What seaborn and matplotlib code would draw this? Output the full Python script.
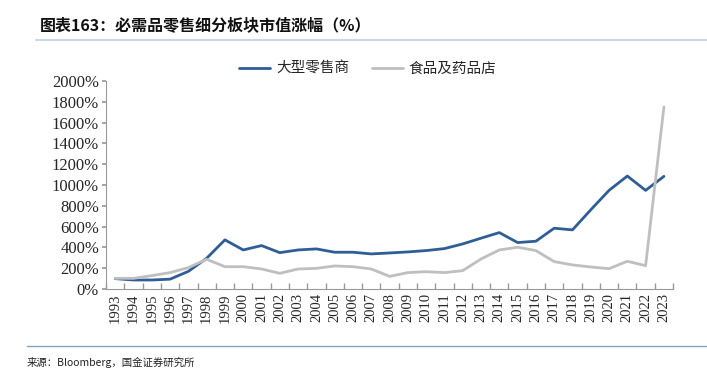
import numpy as np
import pandas as pd
import matplotlib
matplotlib.use('Agg')
import matplotlib.pyplot as plt
import matplotlib.ticker as ticker
import seaborn as sns

# ========== 数据 ==========
years = [str(y) for y in range(1993, 2024)]
large_retail = [100, 87, 87, 95, 170, 296, 473, 376, 418, 350, 376, 386, 354, 354,
                338, 347, 357, 370, 389, 434, 489, 543, 447, 460, 585, 569, 762,
                949, 1087, 949, 1084]
food_drug = [103, 103, 129, 158, 206, 286, 215, 215, 193, 151, 193, 199, 222, 215,
             193, 122, 158, 167, 158, 177, 289, 376, 402, 370, 264, 232, 212, 196,
             267, 225, 1752]
series_names = ['大型零售商', '食品及药品店']
y_ticks = list(range(0, 2001, 200))

sns.set_theme(style='white')
plt.rcParams['font.family'] = ['Noto Sans CJK SC', 'DejaVu Sans']
plt.rcParams['axes.unicode_minus'] = False

df = pd.DataFrame({
    'pos': list(range(len(years))) * 2,
    'value': large_retail + food_drug,
    'series': [series_names[0]] * len(years) + [series_names[1]] * len(years),
})

fig = plt.figure(figsize=(7.07, 3.72), dpi=100)
ax = fig.add_axes([0.150, 0.223, 0.802, 0.559])

sns.lineplot(data=df, x='pos', y='value', hue='series', hue_order=series_names,
             palette=['#2f5d95', '#bfbfbf'], linewidth=2, ax=ax, legend=True)

ax.set_xlim(-0.5, len(years) - 0.5)
ax.set_ylim(0, 2000)
ax.set_xlabel('')
ax.set_ylabel('')

# x 轴：标签居中，刻度在分类之间
ax.set_xticks(range(len(years)))
ax.set_xticklabels(years, rotation=90, family='Liberation Serif', fontsize=10.5)
ax.xaxis.set_minor_locator(ticker.FixedLocator(np.arange(-0.5, len(years), 1)))
ax.tick_params(axis='x', which='major', length=0, pad=3)
ax.tick_params(axis='x', which='minor', length=4, direction='in', color='#999999',
               bottom=True)

ax.set_yticks(y_ticks)
ax.set_yticklabels([f'{v}%' for v in y_ticks], family='Liberation Serif', fontsize=12)
ax.tick_params(axis='y', length=3, direction='out', color='#999999', left=True, pad=2)

for s in ['top', 'right']:
    ax.spines[s].set_visible(False)
for s in ['left', 'bottom']:
    ax.spines[s].set_color('#999999')
    ax.spines[s].set_linewidth(0.8)
ax.grid(False)

leg = ax.legend(loc='center', bbox_to_anchor=(368 / 707, 1 - 69 / 372),
                bbox_transform=fig.transFigure, ncol=2, frameon=False,
                fontsize=10.5, handlelength=2.1, handletextpad=0.4,
                columnspacing=1.6)

# 标题与分隔线
fig.text(40 / 707, 1 - 25 / 372, '图表163：必需品零售细分板块市值涨幅（%）',
         fontsize=11.5, fontweight='bold', fontstyle='italic', va='center', ha='left',
         color='#111111')
fig.add_artist(plt.Line2D([36 / 707, 1], [1 - 40 / 372] * 2, color='#c9d8e3', lw=1.5))
fig.add_artist(plt.Line2D([27 / 707, 1], [1 - 346 / 372] * 2, color='#7ea6c2', lw=1))
fig.text(27 / 707, 1 - 362 / 372, '来源：Bloomberg，国金证券研究所',
         fontsize=7.5, va='center', ha='left', color='#222222')

plt.savefig('out.png', dpi=100)
